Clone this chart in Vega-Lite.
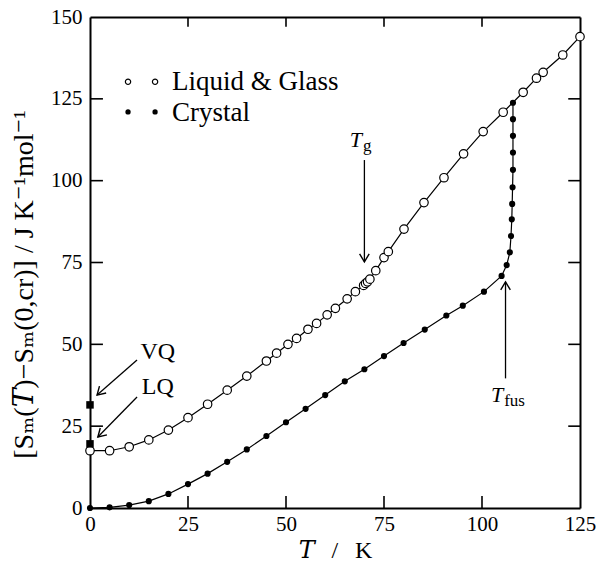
{
  "$schema": "https://vega.github.io/schema/vega-lite/v6.json",
  "width": 490,
  "height": 491,
  "autosize": "none",
  "padding": {"left": 90, "top": 17, "right": 16, "bottom": 54},
  "background": "white",
  "config": {
    "font": "Liberation Serif",
    "view": {"stroke": null},
    "axis": {
      "grid": false,
      "ticks": false,
      "domainColor": "black",
      "domainWidth": 2,
      "labelFlush": false,
      "labelColor": "black",
      "labelFont": "Liberation Serif",
      "labelFontSize": 21,
      "titleFont": "Liberation Serif, DejaVu Serif",
      "titleFontSize": 24,
      "titleFontWeight": "normal",
      "titleColor": "black"
    }
  },
  "datasets": {
    "liquid": [
      {"T": 0, "S": 17.5}, {"T": 5, "S": 17.5}, {"T": 10, "S": 18.7}, {"T": 15, "S": 20.8},
      {"T": 20, "S": 23.8}, {"T": 25, "S": 27.6}, {"T": 30, "S": 31.7}, {"T": 35, "S": 36.0},
      {"T": 40, "S": 40.3}, {"T": 45, "S": 44.9}, {"T": 47.6, "S": 47.3}, {"T": 50.5, "S": 50.0},
      {"T": 52.7, "S": 51.8}, {"T": 55.6, "S": 54.6}, {"T": 57.8, "S": 56.4}, {"T": 60.5, "S": 59.0},
      {"T": 62.6, "S": 61.0}, {"T": 65.6, "S": 63.9}, {"T": 67.7, "S": 66.1}, {"T": 69.8, "S": 68.0},
      {"T": 70.3, "S": 68.6}, {"T": 70.8, "S": 69.1}, {"T": 71.4, "S": 69.9}, {"T": 72.9, "S": 72.5},
      {"T": 75.0, "S": 76.5}, {"T": 76.1, "S": 78.3}, {"T": 80.1, "S": 85.2}, {"T": 85.2, "S": 93.3},
      {"T": 90.3, "S": 100.9}, {"T": 95.3, "S": 108.2}, {"T": 100.3, "S": 115.0}, {"T": 105.4, "S": 120.9},
      {"T": 110.5, "S": 127.0}, {"T": 113.9, "S": 131.3}, {"T": 115.6, "S": 133.1}, {"T": 120.6, "S": 138.4},
      {"T": 125, "S": 144.0}
    ],
    "crystal": [
      {"T": 0, "S": 0}, {"T": 5, "S": 0.2}, {"T": 10, "S": 0.9}, {"T": 15, "S": 2.1},
      {"T": 20, "S": 4.3}, {"T": 25, "S": 7.3}, {"T": 30, "S": 10.5}, {"T": 35, "S": 14.1},
      {"T": 40, "S": 17.9}, {"T": 45, "S": 22.0}, {"T": 50, "S": 26.2}, {"T": 55, "S": 30.3},
      {"T": 60, "S": 34.5}, {"T": 65, "S": 38.7}, {"T": 70, "S": 42.4}, {"T": 75, "S": 46.4},
      {"T": 80, "S": 50.4}, {"T": 85.4, "S": 54.5}, {"T": 90.9, "S": 58.8}, {"T": 95.1, "S": 61.8},
      {"T": 100.5, "S": 66.1}, {"T": 105.0, "S": 70.9}, {"T": 106.3, "S": 74.2}, {"T": 107.1, "S": 78.1},
      {"T": 107.4, "S": 83.1}, {"T": 107.6, "S": 88.2}, {"T": 107.7, "S": 92.9}, {"T": 107.8, "S": 98.0},
      {"T": 107.9, "S": 103.3}, {"T": 107.9, "S": 108.6}, {"T": 107.9, "S": 113.7}, {"T": 107.9, "S": 118.8},
      {"T": 107.9, "S": 123.8}
    ],
    "quench": [
      {"name": "VQ", "T": 0, "S": 31.5},
      {"name": "LQ", "T": 0, "S": 19.6}
    ],
    "frameTicks": [
      {"T": 25, "S": 0, "T2": 25, "S2": 3.7}, {"T": 50, "S": 0, "T2": 50, "S2": 3.7},
      {"T": 75, "S": 0, "T2": 75, "S2": 3.7}, {"T": 100, "S": 0, "T2": 100, "S2": 3.7},
      {"T": 25, "S": 150, "T2": 25, "S2": 147}, {"T": 50, "S": 150, "T2": 50, "S2": 147},
      {"T": 75, "S": 150, "T2": 75, "S2": 147}, {"T": 100, "S": 150, "T2": 100, "S2": 147},
      {"T": 0, "S": 25, "T2": 3.3, "S2": 25}, {"T": 0, "S": 50, "T2": 3.3, "S2": 50},
      {"T": 0, "S": 75, "T2": 3.3, "S2": 75}, {"T": 0, "S": 100, "T2": 3.3, "S2": 100},
      {"T": 0, "S": 125, "T2": 3.3, "S2": 125},
      {"T": 125, "S": 25, "T2": 122, "S2": 25}, {"T": 125, "S": 50, "T2": 122, "S2": 50},
      {"T": 125, "S": 75, "T2": 122, "S2": 75}, {"T": 125, "S": 100, "T2": 122, "S2": 100},
      {"T": 125, "S": 125, "T2": 122, "S2": 125}
    ],
    "diagArrows": [
      {"name": "VQ", "T": 12.0, "S": 45.2, "T2": 1.8, "S2": 34.5},
      {"name": "LQ", "T": 12.0, "S": 33.9, "T2": 2.0, "S2": 21.7}
    ],
    "vertArrows": [
      {"name": "Tg", "T": 70.0, "S": 106.3, "T2": 70.0, "S2": 75.2, "dir": "down"},
      {"name": "Tfus", "T": 106.0, "S": 39.6, "T2": 106.0, "S2": 69.1, "dir": "up"}
    ],
    "labels": [
      {"text": "VQ", "T": 17.3, "S": 47.7},
      {"text": "LQ", "T": 17.3, "S": 37.0}
    ],
    "symbolsT": [
      {"main": "T", "sub": "g", "T": 69.4, "S": 112.4},
      {"main": "T", "sub": "fus", "T": 105.4, "S": 34.4}
    ],
    "legendText": [
      {"text": "Liquid & Glass", "T": 20.9, "S": 130.0},
      {"text": "Crystal", "T": 20.9, "S": 120.8}
    ],
    "legendOpen": [
      {"T": 9.7, "S": 130.2}, {"T": 16.6, "S": 130.2}
    ],
    "legendFilled": [
      {"T": 9.7, "S": 121.0}, {"T": 16.6, "S": 121.0}
    ]
  },
  "layer": [
    {
      "encoding": {
        "x": {
          "field": "T", "type": "quantitative",
          "scale": {"domain": [0, 125], "nice": false, "zero": false},
          "axis": {"orient": "bottom", "values": [0, 25, 50, 75, 100, 125], "labelPadding": 5, "title": "𝑇\u2002\u2009/\u2002\u2009K", "titlePadding": 4}
        },
        "y": {
          "field": "S", "type": "quantitative",
          "scale": {"domain": [0, 150], "nice": false, "zero": false},
          "axis": {"orient": "left", "values": [0, 25, 50, 75, 100, 125, 150], "labelPadding": 8, "title": "[Sₘ(𝑇)−Sₘ(0,cr)] / J K⁻¹mol⁻¹", "titleFontSize": 28, "titlePadding": 12, "titleY": 267}
        }
      },
      "layer": [
        {"data": {"name": "frameTicks"}, "mark": {"type": "rule", "color": "black", "strokeWidth": 1.6}, "encoding": {"x2": {"field": "T2"}, "y2": {"field": "S2"}}},
        {"data": {"name": "liquid"}, "mark": {"type": "line", "color": "black", "strokeWidth": 1.2}, "encoding": {"order": {"field": "S", "type": "quantitative"}}},
        {"data": {"name": "crystal"}, "mark": {"type": "line", "color": "black", "strokeWidth": 1.2}, "encoding": {"order": {"field": "S", "type": "quantitative"}}},
        {"data": {"name": "liquid"}, "mark": {"type": "point", "shape": "circle", "filled": true, "fill": "white", "stroke": "black", "strokeWidth": 1.2, "size": 72, "opacity": 1}},
        {"data": {"name": "crystal"}, "mark": {"type": "point", "shape": "circle", "filled": true, "fill": "black", "size": 38, "opacity": 1}},
        {"data": {"name": "quench"}, "mark": {"type": "point", "shape": "square", "filled": true, "fill": "black", "size": 56, "opacity": 1}},
        {"data": {"name": "diagArrows"}, "mark": {"type": "rule", "color": "black", "strokeWidth": 1.3}, "encoding": {"x2": {"field": "T2"}, "y2": {"field": "S2"}}},
        {"data": {"name": "diagArrows"}, "mark": {"type": "point", "shape": "M -0.6 1 L 0 0 L 0.6 1", "filled": false, "stroke": "black", "strokeWidth": 1.4, "size": 256, "angle": 226, "opacity": 1}, "encoding": {"x": {"field": "T2", "type": "quantitative"}, "y": {"field": "S2", "type": "quantitative"}}},
        {"data": {"name": "vertArrows"}, "mark": {"type": "rule", "color": "black", "strokeWidth": 1.3}, "encoding": {"x2": {"field": "T2"}, "y2": {"field": "S2"}}},
        {"data": {"name": "vertArrows"}, "transform": [{"filter": "datum.dir === 'down'"}], "mark": {"type": "point", "shape": "M -0.6 1 L 0 0 L 0.6 1", "filled": false, "stroke": "black", "strokeWidth": 1.4, "size": 256, "angle": 180, "opacity": 1}, "encoding": {"x": {"field": "T2", "type": "quantitative"}, "y": {"field": "S2", "type": "quantitative"}}},
        {"data": {"name": "vertArrows"}, "transform": [{"filter": "datum.dir === 'up'"}], "mark": {"type": "point", "shape": "M -0.6 1 L 0 0 L 0.6 1", "filled": false, "stroke": "black", "strokeWidth": 1.4, "size": 256, "angle": 0, "opacity": 1}, "encoding": {"x": {"field": "T2", "type": "quantitative"}, "y": {"field": "S2", "type": "quantitative"}}},
        {"data": {"name": "labels"}, "mark": {"type": "text", "fontSize": 24, "align": "center", "baseline": "middle", "color": "black"}, "encoding": {"text": {"field": "text"}}},
        {"data": {"name": "symbolsT"}, "mark": {"type": "text", "fontSize": 22, "fontStyle": "italic", "align": "right", "baseline": "middle", "color": "black"}, "encoding": {"text": {"field": "main"}}},
        {"data": {"name": "symbolsT"}, "mark": {"type": "text", "fontSize": 17, "align": "left", "baseline": "middle", "dy": 6, "dx": 1, "color": "black"}, "encoding": {"text": {"field": "sub"}}},
        {"data": {"name": "legendText"}, "mark": {"type": "text", "fontSize": 27, "align": "left", "baseline": "middle", "color": "black"}, "encoding": {"text": {"field": "text"}}},
        {"data": {"name": "legendOpen"}, "mark": {"type": "point", "shape": "circle", "filled": false, "stroke": "black", "strokeWidth": 1.2, "size": 28, "opacity": 1}},
        {"data": {"name": "legendFilled"}, "mark": {"type": "point", "shape": "circle", "filled": true, "fill": "black", "size": 28, "opacity": 1}}
      ]
    },
    {
      "data": {"name": "liquid"},
      "mark": {"type": "point", "opacity": 0},
      "encoding": {
        "x": {"field": "T", "type": "quantitative", "axis": {"orient": "top", "labels": false, "title": null}},
        "y": {"field": "S", "type": "quantitative", "axis": {"orient": "right", "labels": false, "title": null}}
      }
    }
  ],
  "resolve": {"axis": {"x": "independent", "y": "independent"}}
}
